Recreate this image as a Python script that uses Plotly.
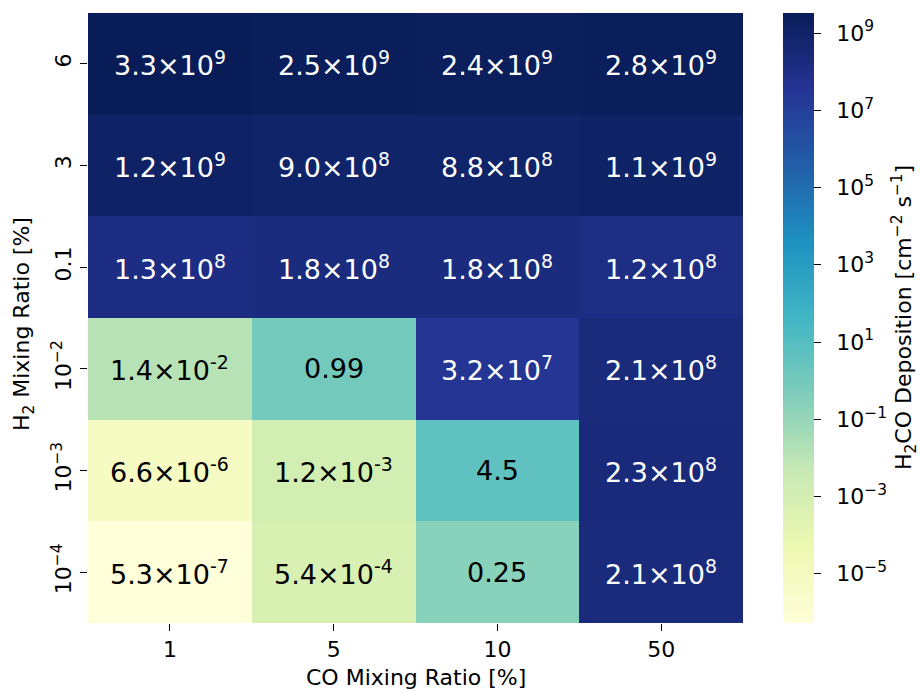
import math
import plotly.graph_objects as go
import plotly.colors as pc

# CO mixing ratio columns and H2 mixing ratio rows (bottom to top)
co_labels = ["1", "5", "10", "50"]
h2_labels = ["10<sup>−4</sup>", "10<sup>−3</sup>", "10<sup>−2</sup>", "0.1", "3", "6"]

# H2CO deposition [cm^-2 s^-1], one list per H2 row (bottom to top)
dep_h2_1e4 = [5.3e-7, 5.4e-4, 0.25, 2.1e8]
dep_h2_1e3 = [6.6e-6, 1.2e-3, 4.5, 2.3e8]
dep_h2_1e2 = [1.4e-2, 0.99, 3.2e7, 2.1e8]
dep_h2_0p1 = [1.3e8, 1.8e8, 1.8e8, 1.2e8]
dep_h2_3 = [1.2e9, 9.0e8, 8.8e8, 1.1e9]
dep_h2_6 = [3.3e9, 2.5e9, 2.4e9, 2.8e9]

rows = [dep_h2_1e4, dep_h2_1e3, dep_h2_1e2, dep_h2_0p1, dep_h2_3, dep_h2_6]

cbar_exps = [-5, -3, -1, 1, 3, 5, 7, 9]

FONT = "DejaVu Sans"
AX = 22
L, R, T, B = 88, 177, 13, 69
PW = 920 - L - R
PH = 692 - T - B

scale = pc.sequential.YlGnBu
colorscale = [[i / (len(scale) - 1), c] for i, c in enumerate(scale)]

logz = [[math.log10(v) for v in r] for r in rows]
flat = [v for r in rows for v in r]
zmin, zmax = math.log10(min(flat)), math.log10(max(flat))


def fmt(v):
    if 0.1 <= v < 100:
        return f"{v:.2g}"
    e = int(math.floor(math.log10(v)))
    m = v / 10 ** e
    if round(m, 1) >= 10:
        m /= 10
        e += 1
    return f"{m:.1f}×10<sup>{e}</sup>"


def lum(rgb):
    vals = []
    for c in rgb:
        c = c / 255
        vals.append(c / 12.92 if c <= 0.03928 else ((c + 0.055) / 1.055) ** 2.4)
    return 0.2126 * vals[0] + 0.7152 * vals[1] + 0.0722 * vals[2]


def px_x(px):
    return (px - L) / PW


def px_y(py):
    return 1 - (py - T) / PH


fig = go.Figure()
fig.add_trace(go.Heatmap(
    z=logz,
    x=list(range(len(co_labels))),
    y=list(range(len(h2_labels))),
    zmin=zmin, zmax=zmax,
    colorscale=colorscale,
    xgap=0, ygap=0,
    hoverinfo="skip",
    colorbar=dict(
        x=px_x(783), xanchor="left", xpad=0,
        y=0.5, yanchor="middle", ypad=0,
        len=1.0, lenmode="fraction",
        thickness=31, thicknessmode="pixels",
        outlinewidth=0,
        tickvals=cbar_exps,
        ticktext=[f"\u00a0\u2009" + f"10<sup>{'−' if e < 0 else ''}{abs(e)}</sup>" for e in cbar_exps],
        ticks="outside", ticklen=7, tickwidth=1.2, tickcolor="#000",
        tickfont=dict(family=FONT, size=AX, color="#000"),
    ),
))

for j, r in enumerate(rows):
    for i, v in enumerate(r):
        frac = (math.log10(v) - zmin) / (zmax - zmin)
        col = pc.sample_colorscale(colorscale, [frac], colortype="tuple")[0]
        rgb = [c * 255 if max(col) <= 1 else c for c in col]
        tcolor = "black" if lum(rgb) > 0.408 else "white"
        fig.add_annotation(
            x=i, y=j, text=fmt(v), showarrow=False,
            font=dict(family=FONT, size=27, color=tcolor),
        )

# colorbar label, set vertically beside the tick labels
fig.add_annotation(
    xref="paper", yref="paper", x=px_x(904), y=0.5,
    xanchor="center", yanchor="middle", textangle=-90, showarrow=False,
    text="H<sub>2</sub>CO Deposition [cm<sup>−2</sup> s<sup>−1</sup>]",
    font=dict(family=FONT, size=AX, color="#000"),
)

# y-axis label
fig.add_annotation(
    xref="paper", yref="paper", x=px_x(23), y=0.49,
    xanchor="center", yanchor="middle", textangle=-90, showarrow=False,
    text="H<sub>2</sub> Mixing Ratio [%]",
    font=dict(family=FONT, size=AX, color="#000"),
)

# x-axis label
fig.add_annotation(
    xref="paper", yref="paper", x=0.5, y=px_y(677),
    xanchor="center", yanchor="middle", showarrow=False,
    text="CO Mixing Ratio [%]",
    font=dict(family=FONT, size=AX, color="#000"),
)

fig.update_xaxes(
    tickvals=list(range(len(co_labels))), ticktext=co_labels,
    range=[-0.5, len(co_labels) - 0.5],
    ticks="outside", ticklen=7, tickwidth=1.2, tickcolor="#000",
    tickfont=dict(family=FONT, size=AX, color="#000"),
    showgrid=False, zeroline=False, showline=False,
    automargin=False,
)
fig.update_yaxes(
    tickvals=list(range(len(h2_labels))), ticktext=h2_labels,
    range=[-0.5, len(h2_labels) - 0.5],
    tickangle=-90,
    ticks="outside", ticklen=7, tickwidth=1.2, tickcolor="#000",
    tickfont=dict(family=FONT, size=AX, color="#000"),
    showgrid=False, zeroline=False, showline=False,
    automargin=False,
)

fig.update_layout(
    width=920, height=692,
    margin=dict(l=L, r=R, t=T, b=B, autoexpand=False),
    paper_bgcolor="white", plot_bgcolor="white",
    font=dict(family=FONT, color="#000"),
)

fig.write_html("out.html")
